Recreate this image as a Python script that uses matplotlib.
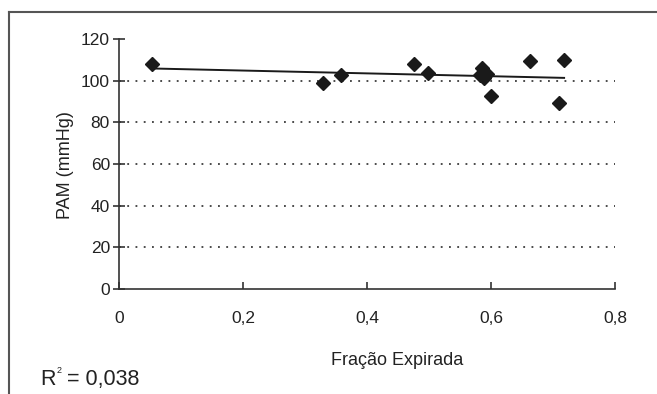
import numpy as np
import matplotlib
matplotlib.use("Agg")
import matplotlib.pyplot as plt
from matplotlib.lines import Line2D

plt.rcParams['font.family'] = ['Liberation Sans', 'DejaVu Sans']

# Expired fraction vs. mean arterial pressure
fracao = [0.053, 0.329, 0.358, 0.476, 0.498, 0.585, 0.583, 0.588, 0.593, 0.600, 0.663, 0.710, 0.718]
pam = [107.7, 99.0, 102.5, 107.7, 103.4, 106.0, 102.5, 101.4, 103.0, 92.5, 109.2, 89.0, 110.0]
x_ticks = [0, 0.2, 0.4, 0.6, 0.8]
x_tick_labels = ["0", "0,2", "0,4", "0,6", "0,8"]
y_ticks = [0, 20, 40, 60, 80, 100, 120]
grid_levels = [20, 40, 60, 80, 100]
r2_value = "0,038"

fig = plt.figure(figsize=(6.57, 3.94), dpi=100)
ax = fig.add_axes([0.181, 0.2665, 0.755, 0.635])

ink = "#1a1a1a"
axis_col = "#333333"
text_col = "#222222"

# dotted horizontal guides
for g in grid_levels:
    ax.plot([0, 0.8], [g, g], color=ink, lw=1.1, ls=(0, (1.2, 4.2)), zorder=1)

# linear trend
coef = np.polyfit(fracao, pam, 1)
xs = np.array([min(fracao), max(fracao)])
ax.plot(xs, np.polyval(coef, xs), color=ink, lw=1.4, zorder=2)

ax.plot(fracao, pam, ls="none", marker="D", ms=7.5, color=ink, zorder=3)

ax.set_xlim(0, 0.8)
ax.set_ylim(0, 120)
ax.set_xticks(x_ticks)
ax.set_xticklabels(x_tick_labels)
ax.set_yticks(y_ticks)

for s in ("top", "right"):
    ax.spines[s].set_visible(False)
for s in ("left", "bottom"):
    ax.spines[s].set_color(axis_col)
    ax.spines[s].set_linewidth(1.2)

ax.tick_params(axis="y", direction="inout", length=9, width=1.2, color=axis_col,
               labelsize=12.5, pad=2, labelcolor=text_col)
ax.tick_params(axis="x", direction="in", length=5, width=1.2, color=axis_col,
               labelsize=12.5, pad=16, labelcolor=text_col)

fig.text(0.099, 0.581, "PAM (mmHg)", rotation=90, ha="center", va="center",
         fontsize=13, color=text_col)
fig.text(0.604, 0.086, "Fração Expirada", ha="center", va="center",
         fontsize=13, color=text_col)

# R² annotation with a small raised "2"
fig.canvas.draw()
renderer = fig.canvas.get_renderer()
t_r = fig.text(0.061, 0.024, "R", ha="left", va="baseline", fontsize=15.5, color=text_col)
bb = t_r.get_window_extent(renderer).transformed(fig.transFigure.inverted())
t_2 = fig.text(bb.x1 + 0.001, 0.024 + 0.030, "2", ha="left", va="baseline",
               fontsize=6.5, color=text_col)
bb2 = t_2.get_window_extent(renderer).transformed(fig.transFigure.inverted())
fig.text(bb2.x1, 0.024, " = " + r2_value, ha="left", va="baseline",
         fontsize=15.5, color=text_col)

# outer frame (left and top edges)
fig.add_artist(Line2D([0.0137, 0.0137], [0.0, 0.9695], transform=fig.transFigure,
                      color="#555555", lw=1.5))
fig.add_artist(Line2D([0.0137, 1.0], [0.9695, 0.9695], transform=fig.transFigure,
                      color="#555555", lw=1.5))

fig.savefig("out.png", dpi=100)
